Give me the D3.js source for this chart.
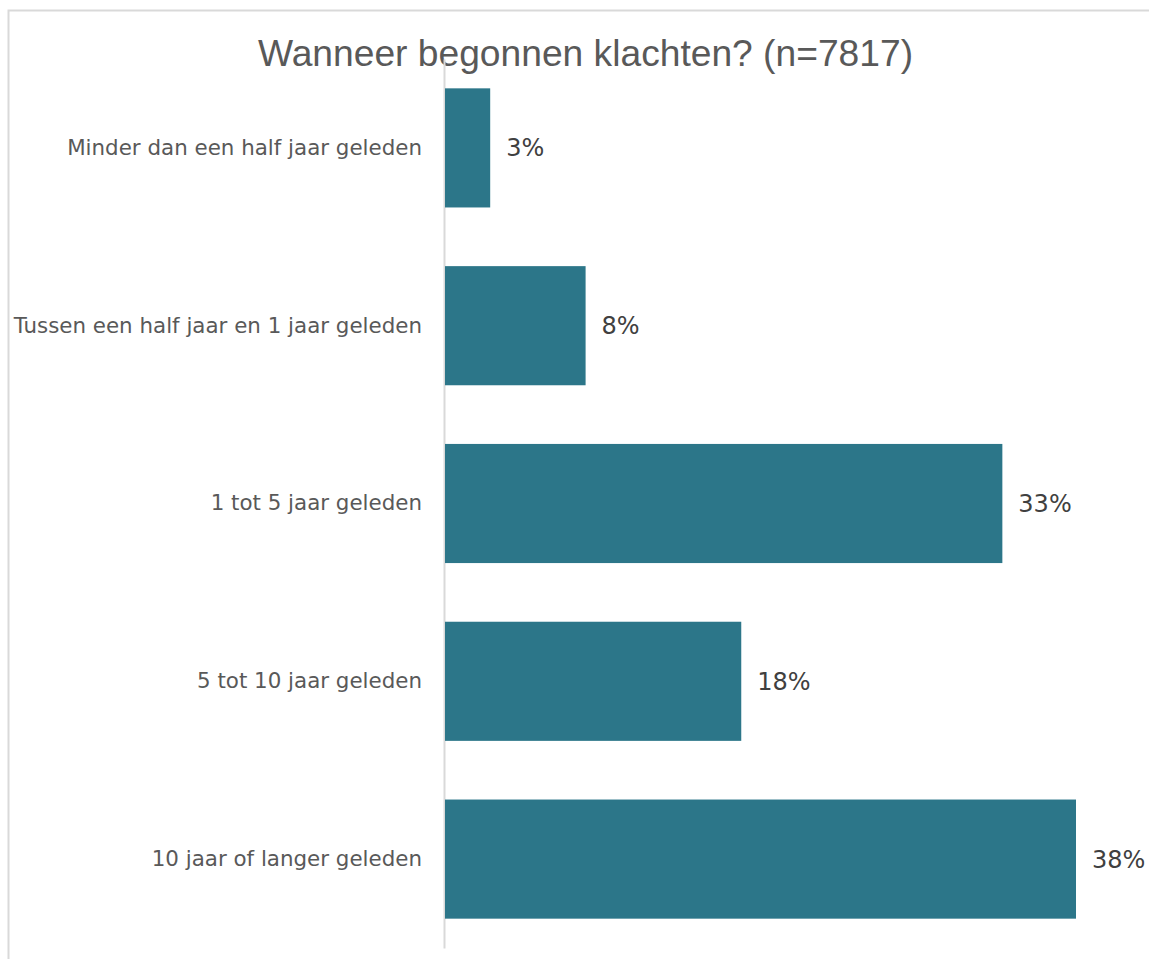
<!DOCTYPE html>
<html>
<head>
<meta charset="utf-8">
<script src="https://cdn.jsdelivr.net/npm/d3@7"></script>
<style>
  body { margin: 0; background: #fff; overflow: hidden; }
</style>
</head>
<body>
<script>
'use strict';

// chart data
var categories = [
    'Minder dan een half jaar geleden',
    'Tussen een half jaar en 1 jaar geleden',
    '1 tot 5 jaar geleden',
    '5 tot 10 jaar geleden',
    '10 jaar of langer geleden'
];
var percentages = [2.7, 8.4, 33.3, 17.7, 37.7];
var chartTitle = 'Wanneer begonnen klachten? (n=7817)';

var width = 1149;
var height = 959;
var margin = {top: 59, right: 20, bottom: 11, left: 445};

var svg = d3.select('body').append('svg')
    .attr('width', width)
    .attr('height', height)
    .style('display', 'block');

// light frame round the chart (right and bottom edges fall outside)
svg.append('rect')
    .attr('x', 8.5)
    .attr('y', 10.5)
    .attr('width', width + 20)
    .attr('height', height + 20)
    .attr('fill', 'none')
    .attr('stroke', '#d9d9d9')
    .attr('stroke-width', 2);

// title
svg.append('text')
    .attr('x', 585.5)
    .attr('y', 66)
    .attr('text-anchor', 'middle')
    .attr('font-family', 'Liberation Sans, Arial, sans-serif')
    .attr('font-size', 37.2)
    .attr('fill', '#595959')
    .text(chartTitle);

// scales
var y = d3.scaleBand()
    .domain(categories)
    .range([margin.top, height - margin.bottom])
    .paddingInner(0.33)
    .paddingOuter(0.165);

var x = d3.scaleLinear()
    .domain([0, 37.7])
    .range([margin.left, 1076]);

// category axis
var axis = svg.append('g')
    .attr('transform', 'translate(' + (margin.left - 1) + ',0)')
    .call(d3.axisLeft(y).tickSize(0).tickPadding(22));

axis.select('.domain')
    .attr('stroke', '#d9d9d9')
    .attr('stroke-width', 2);

axis.selectAll('text')
    .attr('font-family', 'DejaVu Sans, Verdana, sans-serif')
    .attr('font-size', 21.4)
    .attr('fill', '#595959');

// bars
var rows = categories.map(function(c, i) { return {cat: c, val: percentages[i]}; });

svg.selectAll('.bar')
    .data(rows)
    .enter().append('rect')
    .attr('class', 'bar')
    .attr('x', x(0))
    .attr('y', function(d) { return y(d.cat); })
    .attr('width', function(d) { return x(d.val) - x(0); })
    .attr('height', y.bandwidth())
    .attr('fill', '#2c7689');

// value labels
svg.selectAll('.label')
    .data(rows)
    .enter().append('text')
    .attr('class', 'label')
    .attr('x', function(d) { return x(d.val) + 16; })
    .attr('y', function(d) { return y(d.cat) + y.bandwidth() / 2; })
    .attr('dy', '0.35em')
    .attr('font-family', 'DejaVu Sans, Verdana, sans-serif')
    .attr('font-size', 24)
    .attr('fill', '#404040')
    .text(function(d) { return Math.round(d.val) + '%'; });
</script>
</body>
</html>
